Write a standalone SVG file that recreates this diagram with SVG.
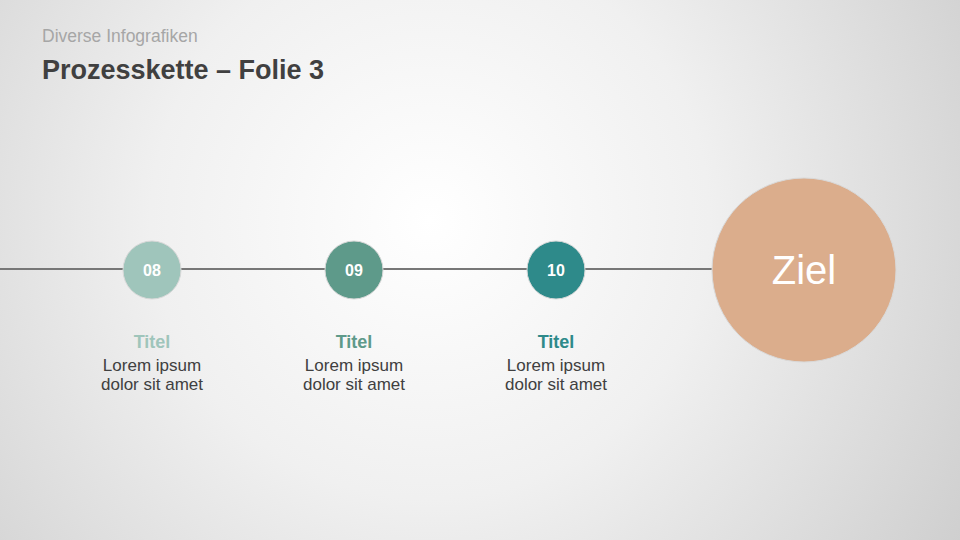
<svg xmlns="http://www.w3.org/2000/svg" width="960" height="540" viewBox="0 0 960 540">
<style>
.sub{font-family:"Liberation Sans",Arial,sans-serif;font-size:17.5px;fill:#a6a6a6}
.ttl{font-family:"Liberation Sans",Arial,sans-serif;font-size:27px;font-weight:bold;fill:#404040}
.num{font-family:"Liberation Sans",Arial,sans-serif;font-size:16px;font-weight:bold;fill:#ffffff;text-anchor:middle}
.head{font-family:"Liberation Sans",Arial,sans-serif;font-size:18px;font-weight:bold;text-anchor:middle}
.body{font-family:"Liberation Sans",Arial,sans-serif;font-size:17px;fill:#404040;text-anchor:middle}
.node{stroke:#d9d9d9;stroke-width:1}
</style>
<defs>
<radialGradient id="bg" cx="430" cy="220" r="620" gradientUnits="userSpaceOnUse">
<stop offset="0" stop-color="#ffffff"/>
<stop offset="0.45" stop-color="#f0f0f0"/>
<stop offset="1" stop-color="#cfcfcf"/>
</radialGradient>
</defs>
<rect width="960" height="540" fill="url(#bg)"/>
<text class="sub" x="42" y="42">Diverse Infografiken</text>
<text class="ttl" x="42" y="79">Prozesskette – Folie 3</text>
<g id="connectors">
<line x1="0" y1="269" x2="712" y2="269" stroke="#777777" stroke-width="2"/>
</g>
<g id="step08">
<circle class="node" cx="152" cy="270" r="29" fill="#9fc5bb"/>
<text class="num" x="152" y="276">08</text>
<text class="head" x="152" y="348" fill="#9fc5bb">Titel</text>
<text class="body" x="152" y="371">Lorem ipsum</text>
<text class="body" x="152" y="390">dolor sit amet</text>
</g>
<g id="step09">
<circle class="node" cx="354" cy="270" r="29" fill="#5e9a8a"/>
<text class="num" x="354" y="276">09</text>
<text class="head" x="354" y="348" fill="#5e9a8a">Titel</text>
<text class="body" x="354" y="371">Lorem ipsum</text>
<text class="body" x="354" y="390">dolor sit amet</text>
</g>
<g id="step10">
<circle class="node" cx="556" cy="270" r="29" fill="#2e8a8a"/>
<text class="num" x="556" y="276">10</text>
<text class="head" x="556" y="348" fill="#2e8a8a">Titel</text>
<text class="body" x="556" y="371">Lorem ipsum</text>
<text class="body" x="556" y="390">dolor sit amet</text>
</g>
<g id="ziel">
<circle class="node" cx="804" cy="270" r="92" fill="#dbad8c"/>
<text x="804" y="284" text-anchor="middle" font-family="'Liberation Sans',Arial,sans-serif" font-size="40" fill="#ffffff">Ziel</text>
</g>
</svg>
